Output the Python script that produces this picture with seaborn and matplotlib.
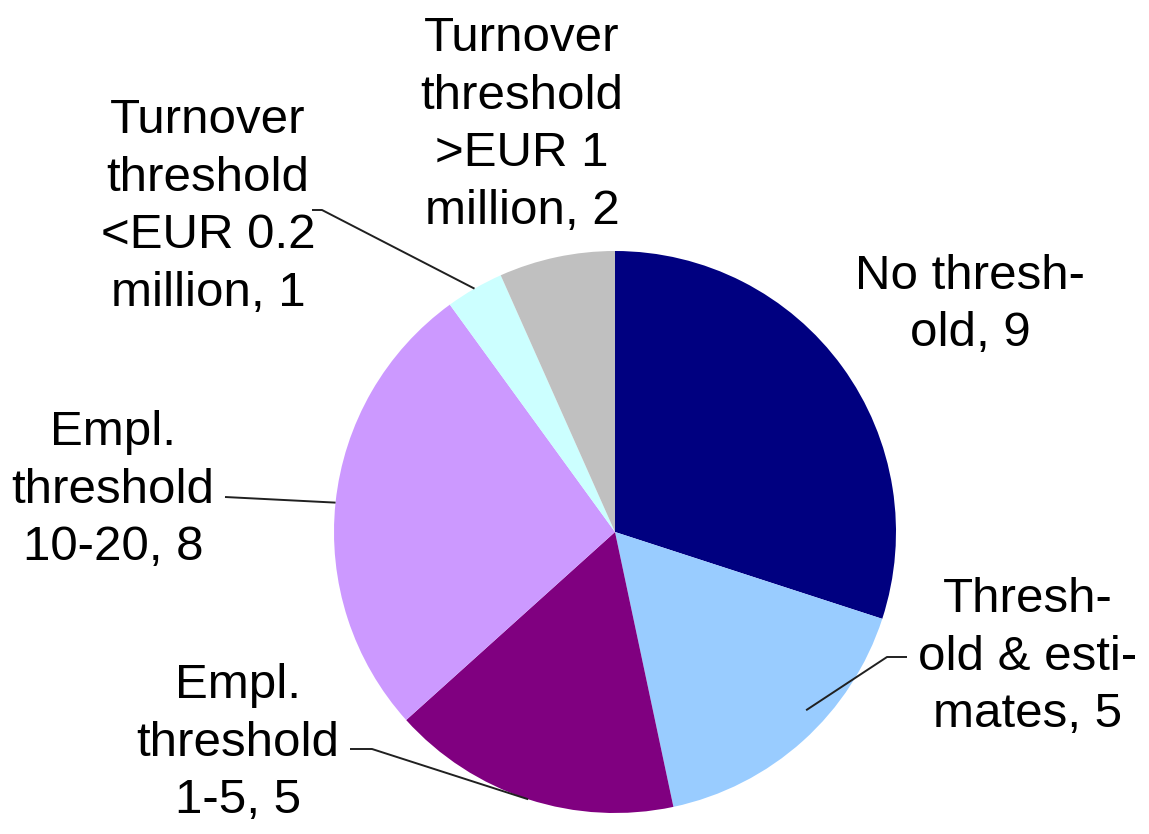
import numpy as np
import matplotlib
matplotlib.use("Agg")
import matplotlib.pyplot as plt
import seaborn as sns

# ---- data ----
labels = [
    "No thresh-\nold, 9",
    "Thresh-\nold & esti-\nmates, 5",
    "Empl.\nthreshold\n1-5, 5",
    "Empl.\nthreshold\n10-20, 8",
    "Turnover\nthreshold\n<EUR 0.2\nmillion, 1",
    "Turnover\nthreshold\n>EUR 1\nmillion, 2",
]
values = [9, 5, 5, 8, 1, 2]
colors = ["#000080", "#99CCFF", "#800080", "#CC99FF", "#CCFFFF", "#C0C0C0"]

# ---- layout (pixel-like data coords, y up) ----
W, H = 1149, 834
sns.set_theme(style="white")
plt.rcParams["font.family"] = ["Liberation Sans", "DejaVu Sans"]

fig = plt.figure(figsize=(W / 100, H / 100), dpi=100)
ax = fig.add_axes([0, 0, 1, 1])
cx, cy, r = 615, H - 532, 281

wedges, _ = ax.pie(values, colors=colors, startangle=90, counterclock=False,
                   center=(cx, cy), radius=r,
                   wedgeprops=dict(linewidth=0, antialiased=True))
ax.set_xlim(0, W)
ax.set_ylim(0, H)
ax.set_aspect("equal")
ax.axis("off")

# label text positions (x, y in pixel from top)
text_pos = [(970, 305), (1028, 657), (238, 743), (113, 490), (208, 207), (522, 125)]
# leader lines: (start points, end radius factor, angle offset deg); None = no line
leaders = [
    None,
    ([(907, 657), (887, 657)], 0.93, 5),
    ([(350, 749), (372, 749)], 1.0, 0),
    ([(225, 497)], 1.0, 0),
    ([(312, 210), (322, 210)], 1.0, 0),
    None,
]

for w, lab, (tx, ty), ld in zip(wedges, labels, text_pos, leaders):
    ax.text(tx, H - ty, lab, ha="center", va="center", fontsize=35.5,
            color="black", linespacing=1.37)
    if ld is not None:
        pts, rf, off = ld
        mid = np.deg2rad((w.theta1 + w.theta2) / 2 + off)
        ex = cx + r * rf * np.cos(mid)
        ey = cy + r * rf * np.sin(mid)
        xs = [p[0] for p in pts] + [ex]
        ys = [H - p[1] for p in pts] + [ey]
        ax.plot(xs, ys, color="#202020", lw=1.4, solid_capstyle="butt")

fig.savefig("out.png", dpi=100)
